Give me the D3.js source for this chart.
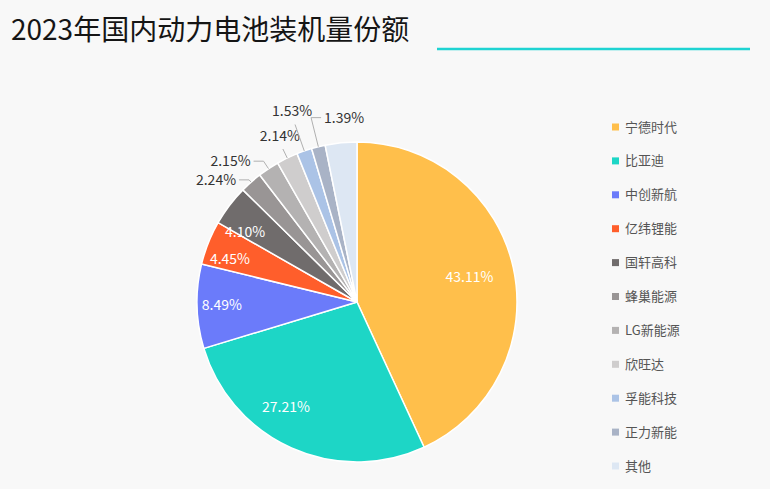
<!DOCTYPE html>
<html><head><meta charset="utf-8">
<script src="https://cdn.jsdelivr.net/npm/d3@7"></script>
<style>
html,body{margin:0;padding:0;background:#f8f8f8;}
svg{display:block;font-family:"Noto Sans CJK SC","Noto Sans",sans-serif;}
</style></head>
<body><svg id="c" width="770" height="489"></svg>
<script>
const categories = ["宁德时代","比亚迪","中创新航","亿纬锂能","国轩高科","蜂巢能源","LG新能源","欣旺达","孚能科技","正力新能","其他"];
const shares = [43.11,27.21,8.49,4.45,4.10,2.24,2.15,2.14,1.53,1.39,3.19];
const labelTexts = ["43.11%","27.21%","8.49%","4.45%","4.10%","2.24%","2.15%","2.14%","1.53%","1.39%",""];
const colors = ["#FFBF4B","#1DD6C6","#6B7BFA","#FF5E2B","#706C6C","#999595","#B4B2B2","#CFCDCD","#ABC3E6","#A9B3C6","#DDE7F3"];
const title = "2023年国内动力电池装机量份额";
// leader-line first-segment lengths for the outside labels (style only)
const leaderLengths = [3, 9, 10, 28, 30];

const svg = d3.select("#c");
svg.append("rect").attr("width",770).attr("height",489).attr("fill","#f8f8f8");

svg.append("text").attr("x",11).attr("y",40).attr("font-size",28).attr("fill","#151515").text(title);
svg.append("line").attr("x1",437).attr("x2",750).attr("y1",49).attr("y2",49)
  .attr("stroke","#1FD3D2").attr("stroke-width",2.5);

const cx = 357, cy = 302, R = 160;
const g = svg.append("g").attr("transform",`translate(${cx},${cy})`);
const data = categories.map((c,i)=>({name:c,value:shares[i],label:labelTexts[i],color:colors[i]}));
const pie = d3.pie().value(d=>d.value).sort(null);
const arcs = pie(data);
const arc = d3.arc().innerRadius(0).outerRadius(R);

g.selectAll("path").data(arcs).join("path")
  .attr("d",arc).attr("fill",d=>d.data.color)
  .attr("stroke","#ffffff").attr("stroke-width",1.5).attr("stroke-linejoin","round");

const polar = (r,a)=>[r*Math.sin(a), -r*Math.cos(a)];
const insideThreshold = 3.5;
const deg = Math.PI/180;

// inside labels
arcs.filter(d=>d.data.label && d.data.value>=insideThreshold).forEach(d=>{
  const m = (d.startAngle+d.endAngle)/2;
  const [x,y] = polar(R*0.72,m);
  g.append("text").attr("x",x).attr("y",y).attr("dy","0.35em")
    .attr("text-anchor", Math.sin(m)>0 ? "middle" : "end")
    .attr("font-size",14).attr("fill","#ffffff").text(d.data.label);
});

// outside labels
const outs = arcs.filter(d=>d.data.label && d.data.value<insideThreshold);
outs.forEach((d,k)=>{
  const m = (d.startAngle+d.endAngle)/2;
  const len1 = leaderLengths[k];
  const p1 = polar(R,m);
  const p2 = polar(R+len1,m);
  let pts, tx, ty, anchor;
  if(m < 330*deg){            // left: horizontal leader
    const p3 = [p2[0]-10, p2[1]];
    pts = [p1,p2,p3]; tx = p3[0]-3; ty = p2[1]; anchor = "end";
  } else if(m < 345*deg){     // near top: text above leader end
    pts = [p1,p2]; tx = p2[0]-3; ty = p2[1]-13; anchor = "middle";
  } else {                    // at top: leader turns right
    const p3 = [p2[0]+10, p2[1]];
    pts = [p1,p2,p3]; tx = p3[0]+3; ty = p2[1]; anchor = "start";
  }
  g.append("polyline").attr("points",pts.map(p=>p.join(",")).join(" "))
    .attr("fill","none").attr("stroke","#b0b0b0").attr("stroke-width",1);
  g.append("text").attr("x",tx).attr("y",ty).attr("dy","0.35em")
    .attr("text-anchor",anchor)
    .attr("font-size",14).attr("fill","#333").text(d.data.label);
});

// legend
const ly = d3.scalePoint().domain(categories).range([127,466]);
const lg = svg.append("g");
categories.forEach((c,i)=>{
  lg.append("rect").attr("x",612).attr("y",ly(c)-3.5).attr("width",7).attr("height",7).attr("fill",colors[i]);
  lg.append("text").attr("x",625).attr("y",ly(c)).attr("dy","0.35em")
    .attr("font-size",13).attr("fill","#555").text(c);
});
</script>
</body></html>
